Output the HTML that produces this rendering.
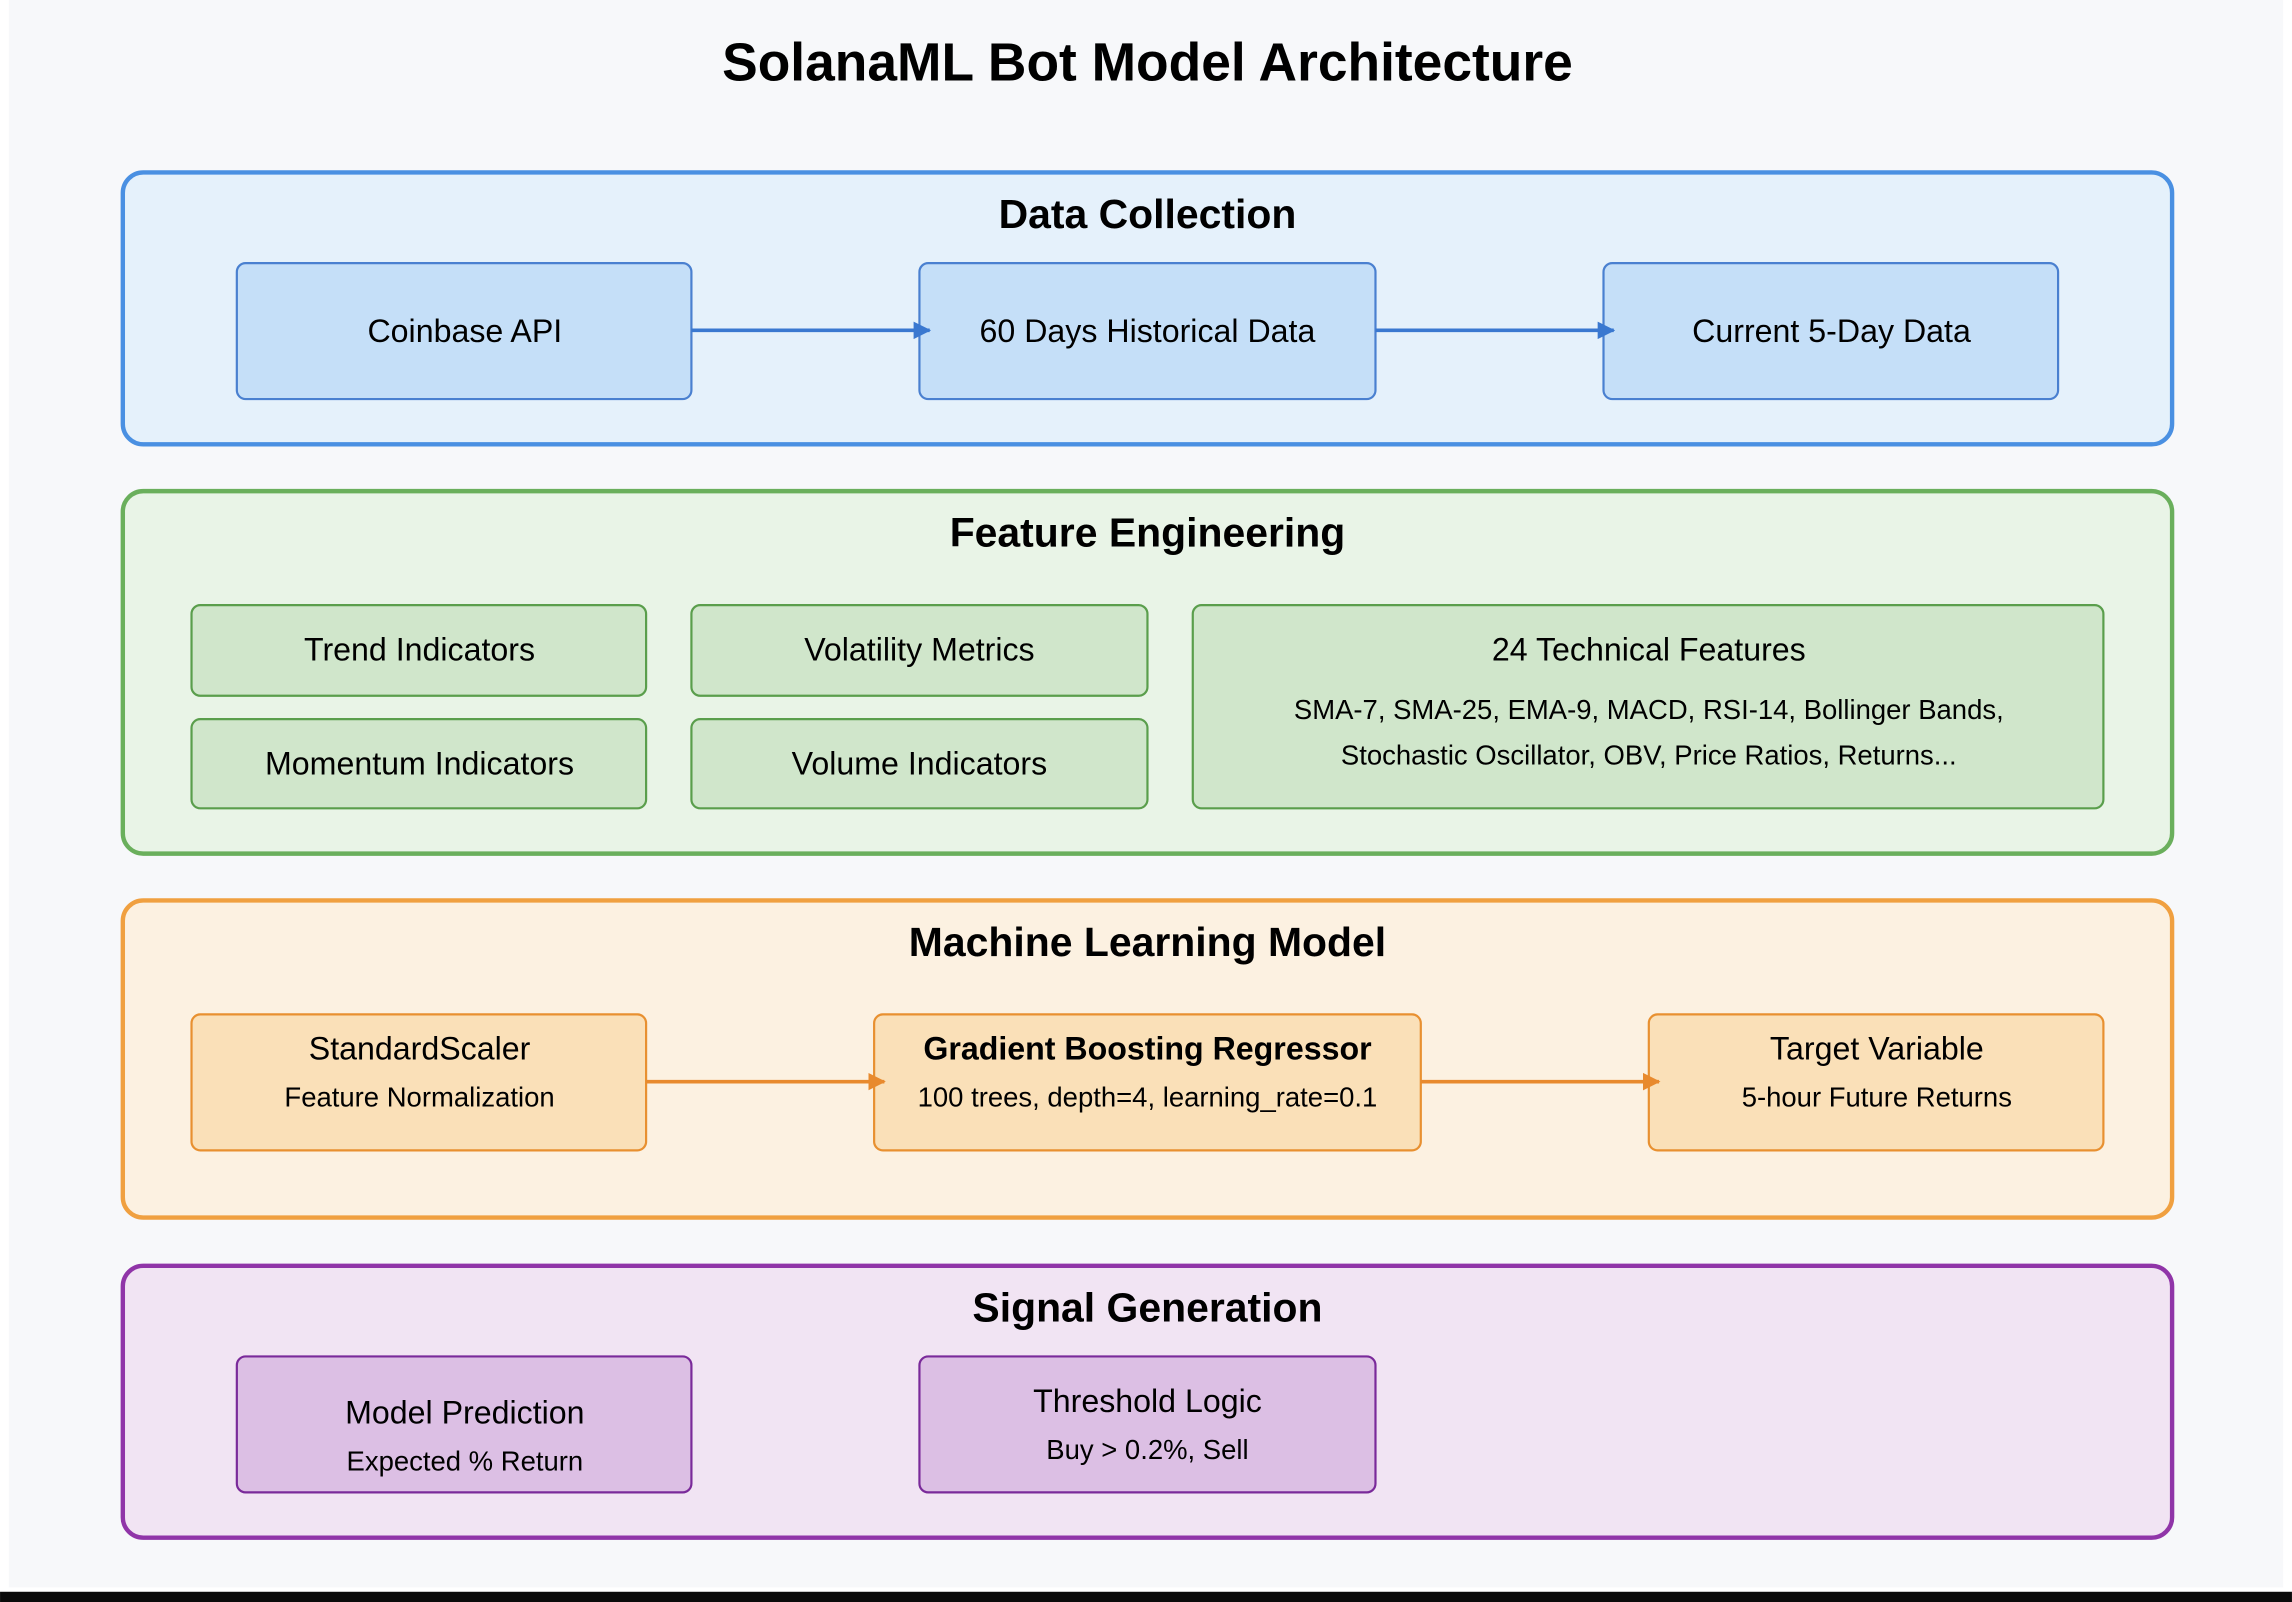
<!DOCTYPE html>
<html><head><meta charset="utf-8"><style>
html,body{margin:0;padding:0;background:#fff;}
svg{display:block;}
text{font-family:"Liberation Sans",Arial,sans-serif;fill:#000;text-anchor:middle;}
</style></head><body>
<svg width="2292" height="1602" viewBox="0 0 1568 1096" xmlns="http://www.w3.org/2000/svg">
<defs>
<marker id="ab" markerWidth="12" markerHeight="12" refX="11" refY="6" orient="auto" markerUnits="userSpaceOnUse"><path d="M0,0 L12,6 L0,12 z" fill="#3a78d0"/></marker>
<marker id="ao" markerWidth="12" markerHeight="12" refX="11" refY="6" orient="auto" markerUnits="userSpaceOnUse"><path d="M0,0 L12,6 L0,12 z" fill="#e88a2e"/></marker>
</defs>
<rect x="0" y="0" width="1568" height="1096" fill="#fff"/>
<rect x="6" y="0" width="1556" height="1086" fill="#f7f8fa"/>
<rect x="0" y="1089" width="1568" height="7" fill="#0a0a0a"/>
<text x="785" y="55" font-size="36.5" font-weight="bold">SolanaML Bot Model Architecture</text>

<rect x="84" y="118" width="1402" height="186" rx="14" fill="#e5f1fb" stroke="#4a90e2" stroke-width="3"/>
<text x="785" y="156" font-size="28" font-weight="bold">Data Collection</text>
<g fill="#c5dff8" stroke="#4a80d0" stroke-width="1.5">
<rect x="162" y="180" width="311" height="93" rx="6"/>
<rect x="629" y="180" width="312" height="93" rx="6"/>
<rect x="1097" y="180" width="311" height="93" rx="6"/>
</g>
<text x="318" y="234" font-size="22">Coinbase API</text>
<text x="785" y="234" font-size="22">60 Days Historical Data</text>
<text x="1253" y="234" font-size="22">Current 5-Day Data</text>
<line x1="473" y1="226" x2="636" y2="226" stroke="#3a78d0" stroke-width="2.5" marker-end="url(#ab)"/>
<line x1="941" y1="226" x2="1104" y2="226" stroke="#3a78d0" stroke-width="2.5" marker-end="url(#ab)"/>

<rect x="84" y="336" width="1402" height="248" rx="14" fill="#e9f4e7" stroke="#6aaf5c" stroke-width="3"/>
<text x="785" y="374" font-size="28" font-weight="bold">Feature Engineering</text>
<g fill="#d0e6cb" stroke="#5a9e4c" stroke-width="1.5">
<rect x="131" y="414" width="311" height="62" rx="6"/>
<rect x="131" y="492" width="311" height="61" rx="6"/>
<rect x="473" y="414" width="312" height="62" rx="6"/>
<rect x="473" y="492" width="312" height="61" rx="6"/>
<rect x="816" y="414" width="623" height="139" rx="6"/>
</g>
<text x="287" y="452" font-size="22">Trend Indicators</text>
<text x="287" y="530" font-size="22">Momentum Indicators</text>
<text x="629" y="452" font-size="22">Volatility Metrics</text>
<text x="629" y="530" font-size="22">Volume Indicators</text>
<text x="1128" y="452" font-size="22">24 Technical Features</text>
<text x="1128" y="492" font-size="18.8">SMA-7, SMA-25, EMA-9, MACD, RSI-14, Bollinger Bands,</text>
<text x="1128" y="523" font-size="18.8">Stochastic Oscillator, OBV, Price Ratios, Returns...</text>

<rect x="84" y="616" width="1402" height="217" rx="14" fill="#fcf1e1" stroke="#f0a040" stroke-width="3"/>
<text x="785" y="654" font-size="28" font-weight="bold">Machine Learning Model</text>
<g fill="#fae0b8" stroke="#e89030" stroke-width="1.5">
<rect x="131" y="694" width="311" height="93" rx="6"/>
<rect x="598" y="694" width="374" height="93" rx="6"/>
<rect x="1128" y="694" width="311" height="93" rx="6"/>
</g>
<text x="287" y="725" font-size="22">StandardScaler</text>
<text x="287" y="757" font-size="18.8">Feature Normalization</text>
<text x="785" y="725" font-size="22" font-weight="bold">Gradient Boosting Regressor</text>
<text x="785" y="757" font-size="18.8">100 trees, depth=4, learning_rate=0.1</text>
<text x="1284" y="725" font-size="22">Target Variable</text>
<text x="1284" y="757" font-size="18.8">5-hour Future Returns</text>
<line x1="442" y1="740" x2="605" y2="740" stroke="#e88a2e" stroke-width="2.5" marker-end="url(#ao)"/>
<line x1="972" y1="740" x2="1135" y2="740" stroke="#e88a2e" stroke-width="2.5" marker-end="url(#ao)"/>

<rect x="84" y="866" width="1402" height="186" rx="14" fill="#f1e4f3" stroke="#9035a8" stroke-width="3"/>
<text x="785" y="904" font-size="28" font-weight="bold">Signal Generation</text>
<g fill="#dcbfe4" stroke="#7a2a9a" stroke-width="1.5">
<rect x="162" y="928" width="311" height="93" rx="6"/>
<rect x="629" y="928" width="312" height="93" rx="6"/>
</g>
<text x="318" y="974" font-size="22">Model Prediction</text>
<text x="318" y="1006" font-size="18.8">Expected % Return</text>
<text x="785" y="966" font-size="22">Threshold Logic</text>
<text x="785" y="998" font-size="18.8">Buy &gt; 0.2%, Sell</text>
</svg>
</body></html>
